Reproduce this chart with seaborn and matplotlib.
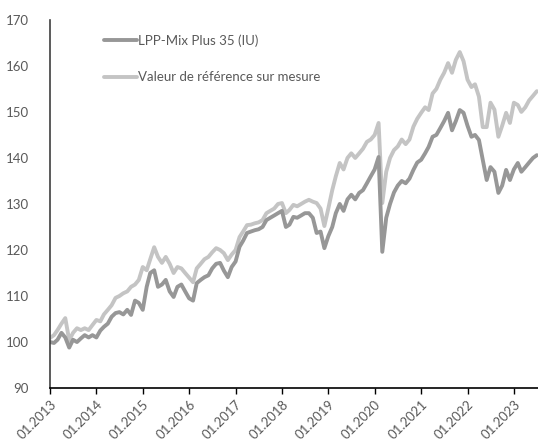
import matplotlib
matplotlib.use("Agg")
import matplotlib.pyplot as plt
import matplotlib.dates as mdates
from matplotlib.lines import Line2D
import pandas as pd
import seaborn as sns

# monthly sampling, Jan 2013 .. Jul 2023
dates = pd.date_range("2013-01-01", "2023-07-01", freq="MS")

lpp = [
    100, 99.8, 100.5, 102, 101, 98.8, 100.5, 100, 100.8, 101.5, 101, 101.5,
    101, 102.5, 103.3, 104, 105.5, 106.3, 106.5, 106, 107, 105.9, 109, 108.5,
    107, 112, 115, 115.6, 112, 112.5, 113.5, 111, 109.8, 112, 112.5, 111,
    109.5, 109, 112.8, 113.5, 114.1, 114.5, 116, 117, 117.2, 115.5, 114.1, 116.3,
    117.5, 120.7, 122, 123.7, 124, 124.3, 124.5, 125, 126.5, 127, 127.5, 128,
    128.5, 125, 125.5, 127.2, 127, 127.5, 128, 128, 127, 123.7, 124, 120.4,
    123, 125, 128, 130, 128.5, 131, 132, 131, 132.4, 133, 134.5, 136,
    137.5, 140.2, 119.6, 127, 130, 132.5, 134, 135, 134.5, 135.5, 137.4, 139,
    139.6, 141, 142.4, 144.6, 145, 146.5, 148, 149.8, 146, 148, 150.4, 149.8,
    147, 144.6, 145, 143.9, 139.6, 135.2, 138, 137, 132.4, 134, 137.4, 135.2,
    137.5, 138.9, 137, 138, 139, 140, 140.6,
]
benchmark = [
    100.9, 101.5, 102.6, 104, 105.2, 100.4, 102, 103, 102.6, 103, 102.6, 103.7,
    104.8, 104.5, 106, 107, 108, 109.6, 110, 110.6, 111, 112, 112.5, 113.5,
    116.3, 115.6, 118, 120.6, 118.5, 117.2, 118.5, 117, 115, 116.3, 116, 115,
    114, 113, 116, 117, 118, 118.5, 119.5, 120.4, 120, 119.3, 117.8, 119,
    120, 122.8, 124, 125.4, 125.5, 125.8, 126, 126.5, 128, 128.5, 129, 130,
    130.2, 128, 128.7, 129.8, 129.5, 130, 130.5, 130.9, 130.5, 130.2, 129, 125.2,
    129, 133, 136, 138.9, 137.5, 140, 141, 140, 141, 142, 143.5, 144,
    145, 147.6, 130.2, 137, 140, 141.7, 142.5, 144, 143, 144, 146.8, 148.5,
    149.8, 151, 150.4, 154, 155, 157, 158.5, 160.6, 158.5, 161.3, 163, 161,
    157, 155.4, 156, 153.3, 146.7, 146.7, 152, 150.5, 144.6, 147, 149.8, 147.6,
    152, 151.5, 150, 151, 152.5, 153.5, 154.5,
]
series_names = ["LPP-Mix Plus 35 (IU)", "Valeur de référence sur mesure"]

df = pd.DataFrame({
    "date": list(dates) * 2,
    "value": lpp + benchmark,
    "series": [series_names[0]] * len(dates) + [series_names[1]] * len(dates),
})

sns.set_style("white")
plt.rcParams["font.family"] = ["Lato", "DejaVu Sans"]

fig = plt.figure(figsize=(5.38, 4.41), dpi=100)
ax = fig.add_axes([0.093, 0.12, 0.907, 0.835])

palette = {series_names[0]: "#979797", series_names[1]: "#c4c4c4"}
sns.lineplot(data=df, x="date", y="value", hue="series", palette=palette,
             hue_order=series_names[::-1], linewidth=2.8, ax=ax, legend=False)

ax.set_xlim(pd.Timestamp("2013-01-01"), pd.Timestamp("2023-07-10"))
ax.set_ylim(90, 170)
ax.set_yticks(range(90, 171, 10))
ax.set_xlabel("")
ax.set_ylabel("")

ax.xaxis.set_major_locator(mdates.YearLocator())
ax.xaxis.set_major_formatter(mdates.DateFormatter("%m.%Y"))
for lbl in ax.get_xticklabels():
    lbl.set_rotation(45)
    lbl.set_horizontalalignment("right")
    lbl.set_rotation_mode("anchor")
ax.tick_params(axis="x", bottom=True, length=4, width=1, color="#000000",
               labelsize=9.5, labelcolor="#595959", pad=3)
ax.tick_params(axis="y", left=False, labelsize=9.5, labelcolor="#595959", pad=12)

sns.despine(ax=ax)
ax.spines["left"].set_color("#404040")
ax.spines["bottom"].set_color("#000000")
ax.spines["left"].set_linewidth(1.2)
ax.spines["bottom"].set_linewidth(1.2)

handles = [Line2D([], [], color=palette[n], linewidth=2.8) for n in series_names]
ax.legend(handles, series_names, loc="upper left", bbox_to_anchor=(0.1, 0.975),
          frameon=False, handlelength=2.5, handletextpad=0.1, labelspacing=1.85,
          fontsize=9.5, labelcolor="#595959", borderaxespad=0)

fig.savefig("out.png", dpi=100)
